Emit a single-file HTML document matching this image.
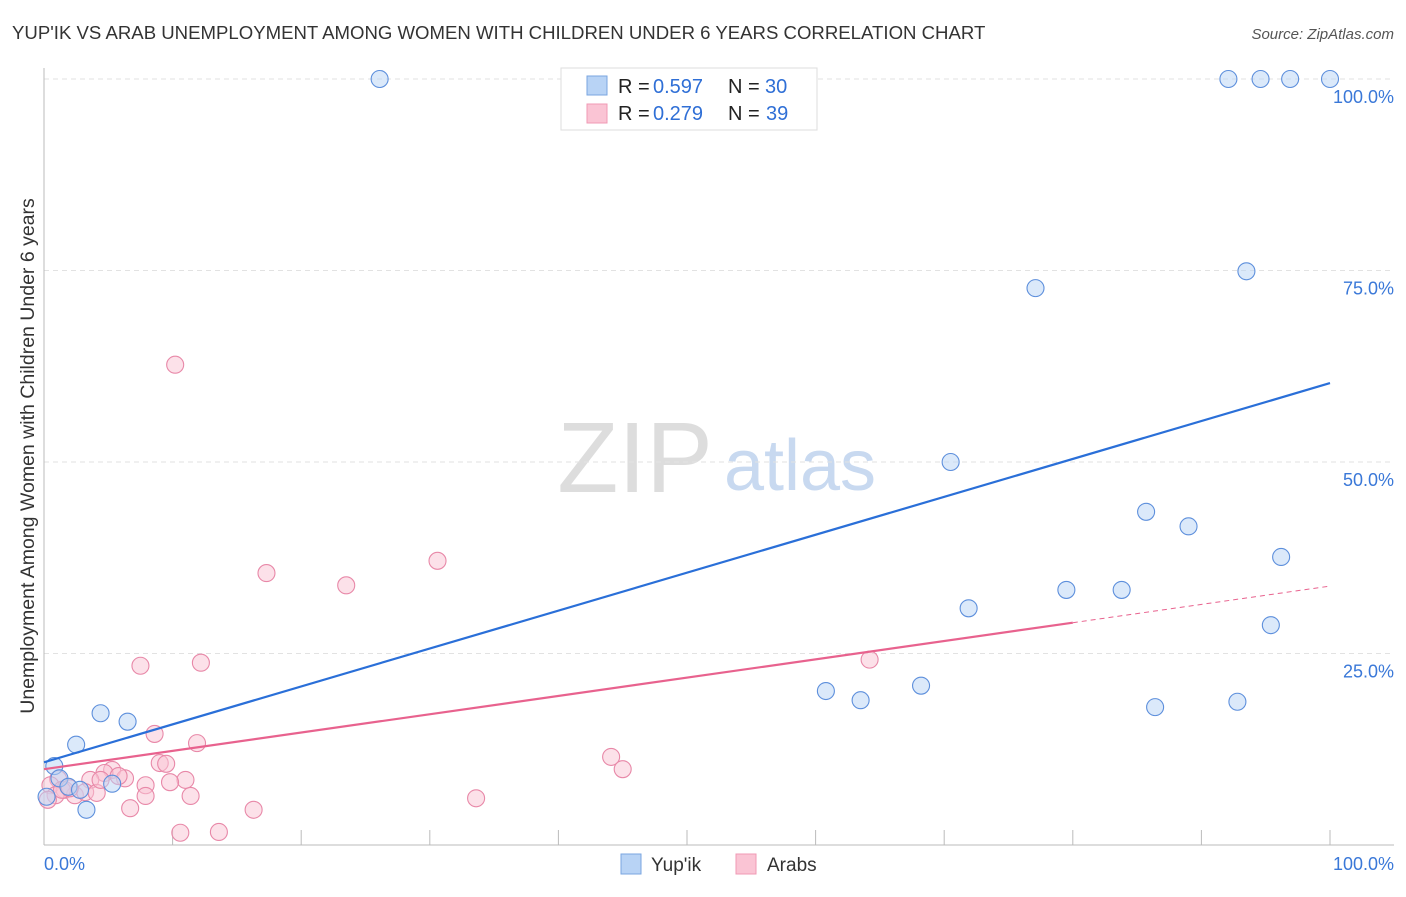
<!DOCTYPE html>
<html><head><meta charset="utf-8"><style>
body{margin:0;background:#fff;font-family:"Liberation Sans",sans-serif}
svg text{font-family:"Liberation Sans",sans-serif}
</style></head><body>
<svg id="c" width="1406" height="892">
<text x="12" y="39" font-size="18.6" fill="#333">YUP'IK VS ARAB UNEMPLOYMENT AMONG WOMEN WITH CHILDREN UNDER 6 YEARS CORRELATION CHART</text>
<text x="1394" y="39" font-size="15" fill="#555" font-style="italic" text-anchor="end">Source: ZipAtlas.com</text>
<text x="635" y="492" font-size="100" fill="#ddd" font-family="Liberation Serif" text-anchor="middle">ZIP</text>
<text x="800" y="490" font-size="72" fill="#c8d9f0" text-anchor="middle">atlas</text>
<text transform="translate(34,456) rotate(-90)" font-size="19.5" fill="#333" text-anchor="middle">Unemployment Among Women with Children Under 6 years</text>
<g id="grid"></g><g id="marks"></g>
<g>
<rect x="561" y="68" width="256" height="62" fill="#fff" stroke="#ddd"/>
<rect x="587" y="76" width="20" height="19" fill="#b8d3f5" stroke="#7aa6e0"/>
<rect x="587" y="104" width="20" height="19" fill="#fac4d4" stroke="#f09ab4"/>
<text x="618" y="93" font-size="20" fill="#222">R =</text>
<text x="653" y="93" font-size="20" fill="#2f6fd6">0.597</text>
<text x="728" y="93" font-size="20" fill="#222">N =</text>
<text x="765" y="93" font-size="20" fill="#2f6fd6">30</text>
<text x="618" y="120" font-size="20" fill="#222">R =</text>
<text x="653" y="120" font-size="20" fill="#2f6fd6">0.279</text>
<text x="728" y="120" font-size="20" fill="#222">N =</text>
<text x="766" y="120" font-size="20" fill="#2f6fd6">39</text>
</g>
<g>
<rect x="621" y="854" width="20" height="20" fill="#b8d3f5" stroke="#7aa6e0"/>
<text x="651" y="871" font-size="19" fill="#333">Yup'ik</text>
<rect x="736" y="854" width="20" height="20" fill="#fac4d4" stroke="#f09ab4"/>
<text x="767" y="871" font-size="19" fill="#333">Arabs</text>
</g>
</svg>
<script>
const yTicks=[25,50,75,100];
const yTickLabels=["25.0%","50.0%","75.0%","100.0%"];
const blueX=[26.1,92.1,94.6,96.9,100,93.5,77.1,70.5,85.7,89.0,96.2,79.5,83.8,71.9,95.4,60.8,63.5,68.2,86.4,92.8,4.4,6.5,2.5,0.8,0.2,1.2,1.9,5.3,3.3,2.8];
const blueY=[100,100,100,100,100,74.9,72.7,50.0,43.5,41.6,37.6,33.3,33.3,30.9,28.7,20.1,18.9,20.8,18.0,18.7,17.2,16.1,13.1,10.3,6.3,8.7,7.6,8.0,4.6,7.2];
const pinkX=[10.2,17.3,23.5,30.6,7.5,12.2,64.2,8.6,11.9,44.1,45.0,33.6,9.0,9.5,5.3,6.3,4.7,3.6,7.9,11.0,9.8,1.1,0.5,1.6,2.4,3.2,4.1,7.9,11.4,6.7,10.6,13.6,16.3,0.9,1.4,2.0,5.8,0.3,4.4];
const pinkY=[62.7,35.5,33.9,37.1,23.4,23.8,24.2,14.5,13.3,11.5,9.9,6.1,10.7,10.6,9.8,8.7,9.4,8.5,7.8,8.5,8.2,8.6,7.8,7.2,6.5,6.9,6.8,6.4,6.4,4.8,1.6,1.7,4.6,6.5,7.2,7.4,9.0,5.9,8.5];
const blueTrend=[10.8,60.3];
const pinkTrend=[9.9,33.8];
const pinkSolidEnd=80;
const NS="http://www.w3.org/2000/svg";
const X=v=>44+v*12.86, Y=v=>845-v*7.66;
function mk(t,a,p){const e=document.createElementNS(NS,t);for(const k in a)e.setAttribute(k,a[k]);p.appendChild(e);return e;}
const g=document.getElementById('grid'),m=document.getElementById('marks');
yTicks.forEach((t,i)=>{
 const l=mk('line',{x1:44,x2:1394,y1:Y(t),y2:Y(t),stroke:'#e2e2e2','stroke-dasharray':'5,4'},g);
 
 
 const tx=mk('text',{x:1394,y:Y(t)+24,'font-size':18,fill:'#3a78d8','text-anchor':'end'},g);tx.textContent=yTickLabels[i];
 
 
});
let a=mk('line',{x1:44,x2:44,y1:68,y2:845,stroke:'#bbb'},g);


a=mk('line',{x1:44,x2:1394,y1:845,y2:845,stroke:'#bbb'},g);


for(let i=1;i<=10;i++){const t=mk('line',{x1:X(i*10),x2:X(i*10),y1:830,y2:845,stroke:'#bbb'},g);
 
 }
let t0=mk('text',{x:44,y:870,'font-size':18,fill:'#3a78d8'},g);t0.textContent='0.0%';


t0=mk('text',{x:1394,y:870,'font-size':18,fill:'#3a78d8','text-anchor':'end'},g);t0.textContent='100.0%';


function pts(xs,ys,f,s,n){xs.forEach((x,i)=>{const c=mk('circle',{cx:X(x),cy:Y(ys[i]),r:8.5,fill:f,'fill-opacity':0.5,stroke:s,'stroke-width':1.1},m);
 
 });}
pts(pinkX,pinkY,'#f9c3d3','#e888a8','arabs-point');
pts(blueX,blueY,'#b8d3f5','#5d8fdc','yupik-point');
let ln=mk('line',{x1:X(0),y1:Y(blueTrend[0]),x2:X(100),y2:Y(blueTrend[1]),stroke:'#2a6fd8','stroke-width':2.2},m);


const pAt=x=>pinkTrend[0]+(pinkTrend[1]-pinkTrend[0])*x/100;
ln=mk('line',{x1:X(0),y1:Y(pAt(0)),x2:X(pinkSolidEnd),y2:Y(pAt(pinkSolidEnd)),stroke:'#e8628e','stroke-width':2.2},m);


ln=mk('line',{x1:X(pinkSolidEnd),y1:Y(pAt(pinkSolidEnd)),x2:X(100),y2:Y(pAt(100)),stroke:'#e8628e','stroke-width':1,'stroke-dasharray':'5,4'},m);


</script>
</body></html>
